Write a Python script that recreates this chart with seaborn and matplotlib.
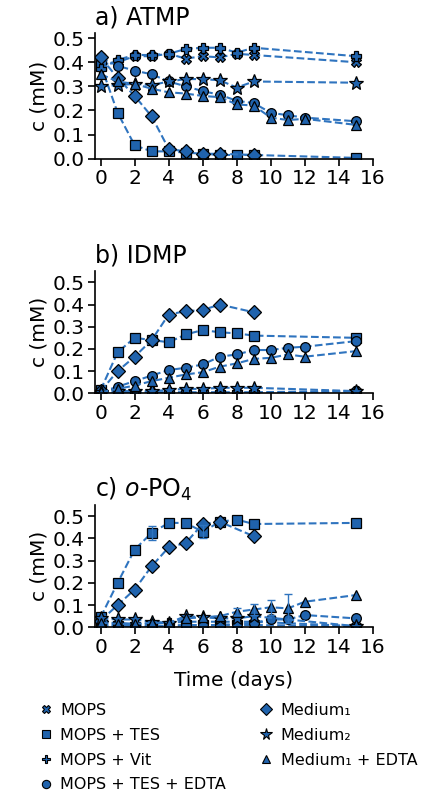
import numpy as np
import pandas as pd
import matplotlib
matplotlib.use("Agg")
import matplotlib.pyplot as plt
import seaborn as sns
from matplotlib.lines import Line2D

sns.set_theme(style="ticks")
plt.rcParams['font.family'] = ['DejaVu Sans']

series = ["MOPS", "MOPS + TES", "MOPS + Vit", "MOPS + TES + EDTA",
          "Medium\u2081", "Medium\u2082", "Medium\u2081 + EDTA"]
markers = ["X", "s", "P", "o", "D", "*", "^"]

t_std = [0, 1, 2, 3, 4, 5, 6, 7, 8, 9, 15]
t_long = [0, 1, 2, 3, 4, 5, 6, 7, 8, 9, 10, 11, 12, 15]
t_med1 = [0, 1, 2, 3, 4, 5, 6, 7, 9]
times = [t_std, t_std, t_std, t_long, t_med1, t_std, t_long]

# a) ATMP
atmp = [
    [0.39, 0.40, 0.425, 0.425, 0.435, 0.415, 0.425, 0.42, 0.435, 0.43, 0.40],
    [0.39, 0.19, 0.055, 0.03, 0.03, 0.025, 0.02, 0.015, 0.015, 0.015, 0.003],
    [0.37, 0.41, 0.43, 0.43, 0.435, 0.455, 0.46, 0.46, 0.44, 0.46, 0.425],
    [0.42, 0.385, 0.365, 0.35, 0.32, 0.30, 0.28, 0.265, 0.24, 0.23, 0.19, 0.18, 0.17, 0.155],
    [0.42, 0.335, 0.26, 0.175, 0.04, 0.03, 0.02, 0.02, 0.015],
    [0.30, 0.305, 0.31, 0.305, 0.32, 0.33, 0.33, 0.325, 0.295, 0.32, 0.315],
    [0.35, 0.32, 0.31, 0.29, 0.275, 0.27, 0.26, 0.255, 0.225, 0.22, 0.17, 0.16, 0.165, 0.14],
]
# b) IDMP
idmp = [
    [0.0, 0.0, 0.0, 0.0, 0.0, 0.0, 0.0, 0.0, 0.0, 0.0, 0.01],
    [0.015, 0.185, 0.25, 0.24, 0.23, 0.265, 0.285, 0.275, 0.27, 0.26, 0.25],
    [0.005, 0.005, 0.005, 0.005, 0.005, 0.005, 0.005, 0.005, 0.005, 0.005, 0.01],
    [0.005, 0.03, 0.055, 0.08, 0.105, 0.115, 0.13, 0.165, 0.175, 0.195, 0.195, 0.205, 0.21, 0.235],
    [0.01, 0.10, 0.165, 0.24, 0.355, 0.37, 0.375, 0.40, 0.365],
    [0.005, 0.01, 0.01, 0.01, 0.015, 0.02, 0.02, 0.025, 0.025, 0.025, 0.01],
    [0.005, 0.02, 0.035, 0.055, 0.07, 0.085, 0.095, 0.12, 0.135, 0.155, 0.16, 0.175, 0.165, 0.19],
]
# c) o-PO4
opo4 = [
    [0.01, 0.01, 0.005, 0.005, 0.005, 0.01, 0.01, 0.01, 0.01, 0.01, 0.005],
    [0.045, 0.20, 0.35, 0.425, 0.47, 0.47, 0.43, 0.475, 0.485, 0.465, 0.47],
    [0.02, 0.02, 0.015, 0.015, 0.02, 0.025, 0.025, 0.025, 0.025, 0.025, 0.005],
    [0.005, 0.005, 0.005, 0.005, 0.005, 0.01, 0.01, 0.01, 0.015, 0.02, 0.035, 0.035, 0.055, 0.04],
    [0.03, 0.10, 0.17, 0.275, 0.36, 0.38, 0.465, 0.475, 0.41],
    [0.04, 0.035, 0.035, 0.025, 0.02, 0.05, 0.045, 0.04, 0.04, 0.05, 0.005],
    [0.02, 0.015, 0.015, 0.02, 0.02, 0.04, 0.045, 0.05, 0.07, 0.08, 0.09, 0.085, 0.115, 0.145],
]
# error bars (series index, time, err) for c)
opo4_err_series = [1, 1, 6, 6, 6, 6]
opo4_err_time = [3, 6, 8, 9, 10, 11]
opo4_err_val = [0.03, 0.03, 0.015, 0.025, 0.035, 0.065]

panels = [("a) ATMP", atmp), ("b) IDMP", idmp), ("c) $o$-PO$_4$", opo4)]

color = "#2063ad"
line_color = "#2f74bf"
msizes = {"X": 7, "s": 7, "P": 7.5, "o": 7, "D": 7, "*": 10, "^": 7.5}

fig = plt.figure(figsize=(4.23, 7.93), dpi=100)
axes_pos = [(0.2246, 0.800, 0.657, 0.158),
            (0.2246, 0.504, 0.657, 0.154),
            (0.2246, 0.209, 0.657, 0.154)]

for pi, (title, data) in enumerate(panels):
    ax = fig.add_axes(axes_pos[pi])
    for si, name in enumerate(series):
        df = pd.DataFrame({"t": times[si], "c": data[si]})
        sns.lineplot(data=df, x="t", y="c", ax=ax, color=line_color,
                     linestyle="--", linewidth=1.5, marker=markers[si],
                     markersize=msizes[markers[si]], markeredgecolor="black",
                     markeredgewidth=0.9, markerfacecolor=color, alpha=1.0)
    if pi == 2:
        for s, tt, e in zip(opo4_err_series, opo4_err_time, opo4_err_val):
            yv = data[s][times[s].index(tt)]
            ax.errorbar([tt], [yv], yerr=[e], color=line_color, capsize=3,
                        linewidth=1.0, fmt="none")
    ax.set_xlim(-0.33, 16)
    ax.set_ylim(0, 0.52 if pi == 0 else 0.55)
    ax.set_xticks(range(0, 17, 2))
    ax.set_yticks([0, 0.1, 0.2, 0.3, 0.4, 0.5])
    ax.set_yticklabels(["0.0", "0.1", "0.2", "0.3", "0.4", "0.5"])
    ax.tick_params(labelsize=14.5, colors="black", width=1.2, length=5, pad=2.5)
    for sp in ["left", "bottom"]:
        ax.spines[sp].set_color("black")
        ax.spines[sp].set_linewidth(1.2)
    sns.despine(ax=ax)
    ax.set_ylabel("c (mM)", fontsize=14.5, color="black", labelpad=3)
    ax.set_xlabel("Time (days)" if pi == 2 else "", fontsize=14.5, color="black",
                  labelpad=10)
    ax.set_title(title, loc="left", fontsize=17, color="black", pad=6)

handles = [Line2D([], [], linestyle="none", marker=m, markersize=msizes[m] * 0.85,
                  markerfacecolor=color, markeredgecolor="black",
                  markeredgewidth=0.8) for m in markers]
fig.legend(handles, series, ncol=2, frameon=False, loc="upper left",
           bbox_to_anchor=(0.052, 0.132), fontsize=11.5, handletextpad=0.3,
           columnspacing=1.9, labelspacing=0.62, handlelength=1.2,
           labelcolor="black")

fig.savefig("out.png", dpi=100)
